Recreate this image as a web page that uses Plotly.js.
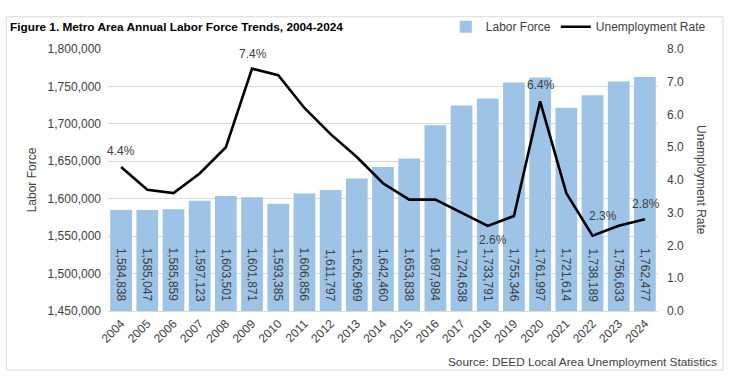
<!DOCTYPE html>
<html>
<head>
<meta charset="utf-8">
<script src="https://cdn.plot.ly/plotly-3.0.1.min.js"></script>
<style>html,body{margin:0;padding:0;background:#fff;}#chart{width:732px;height:378px;}</style>
</head>
<body>
<div id="chart"></div>
<script>
const years = ['2004','2005','2006','2007','2008','2009','2010','2011','2012','2013','2014','2015','2016','2017','2018','2019','2020','2021','2022','2023','2024'];
const laborForce = [1584838,1585047,1585859,1597123,1603501,1601871,1593385,1606856,1611797,1626969,1642460,1653838,1697984,1724638,1733791,1755346,1761997,1721614,1738189,1756633,1762477];
const unemploymentRate = [4.4,3.7,3.6,4.2,5.0,7.4,7.2,6.2,5.4,4.7,3.9,3.4,3.4,3.0,2.6,2.9,6.4,3.6,2.3,2.6,2.8];
const labeledYears = ['2004','2009','2018','2020','2022','2024'];
const yMin = 1450000, yMax = 1800000;

const FONT = 'Liberation Sans, Arial, sans-serif';
const TXT = '#404040';

const barTrace = {
  type: 'bar', name: 'Labor Force', x: years, y: laborForce,
  marker: {color: '#9DC3E6'}, hoverinfo: 'x+y'
};
const lineTrace = {
  type: 'scatter', mode: 'lines', name: 'Unemployment Rate',
  x: years, y: unemploymentRate, yaxis: 'y2',
  line: {color: '#000000', width: 2.6}
};

// bar value labels, rotated, anchored at the axis floor
const annotations = laborForce.map((v, i) => ({
  x: i, y: yMin, xref: 'x', yref: 'y', text: v.toLocaleString('en-US'),
  textangle: 90, showarrow: false, xanchor: 'center', yanchor: 'bottom', yshift: 7,
  font: {family: FONT, size: 12, color: TXT}
}));

const offsets = {'2004':[0,16],'2009':[1,15],'2018':[5,-14],'2020':[1,16],'2022':[10,20],'2024':[1,15]};
labeledYears.forEach(yr => {
  const i = years.indexOf(yr);
  const o = offsets[yr];
  annotations.push({x: i, y: unemploymentRate[i], xref: 'x', yref: 'y2',
    text: unemploymentRate[i].toFixed(1) + '%', showarrow: false,
    xshift: o[0], yshift: o[1], font: {family: FONT, size: 12, color: TXT}});
});
const i22 = years.indexOf('2022');
annotations.push({x: i22, y: unemploymentRate[i22], xref: 'x', yref: 'y2',
  ax: 6, ay: -9, showarrow: true, arrowhead: 0, arrowwidth: 1,
  arrowcolor: '#bfbfbf', text: '', standoff: 1});
annotations.push({xref: 'paper', yref: 'paper', x: -0.182, y: 1.085, xanchor: 'left', yanchor: 'middle',
  text: '<b>Figure 1. Metro Area Annual Labor Force Trends, 2004-2024</b>', showarrow: false,
  font: {family: FONT, size: 11.8, color: '#000'}});
annotations.push({xref: 'paper', yref: 'paper', x: 1.11, y: -0.195, xanchor: 'right', yanchor: 'middle',
  text: 'Source: DEED Local Area Unemployment Statistics', showarrow: false,
  font: {family: FONT, size: 11.8, color: TXT}});
annotations.push({xref: 'paper', yref: 'paper', x: 1.078, y: 0.5, xanchor: 'center', yanchor: 'middle',
  text: 'Unemployment Rate', textangle: 90, showarrow: false,
  font: {family: FONT, size: 12, color: TXT}});

const layout = {
  width: 732, height: 378,
  margin: {l: 108, r: 74, t: 40, b: 67},
  paper_bgcolor: '#fff', plot_bgcolor: '#fff',
  font: {family: FONT, size: 12, color: TXT},
  bargap: 0.17,
  showlegend: true,
  legend: {orientation: 'h', x: 1.096, xanchor: 'right', y: 1.085, yanchor: 'middle',
    font: {family: FONT, size: 12, color: TXT}, bgcolor: 'rgba(0,0,0,0)', traceorder: 'normal'},
  xaxis: {type: 'category', range: [-0.5, years.length - 0.5], autorange: false, tickangle: -45,
    showgrid: false, showline: true, linecolor: '#d9d9d9',
    ticks: '', tickfont: {family: FONT, size: 12, color: TXT}},
  yaxis: {range: [yMin, yMax], autorange: false, dtick: 50000, tickformat: ',d', showgrid: true, gridcolor: '#d9d9d9',
    zeroline: false, ticks: '', ticklabelstandoff: 6,
    title: {text: 'Labor Force', font: {family: FONT, size: 12, color: TXT}, standoff: 8},
    tickfont: {family: FONT, size: 12, color: TXT}},
  yaxis2: {range: [0, 8], autorange: false, dtick: 1, tickformat: '.1f', overlaying: 'y', side: 'right', showgrid: false,
    zeroline: false, ticks: '', ticklabelstandoff: 8, tickfont: {family: FONT, size: 12, color: TXT}},
  annotations: annotations,
  shapes: [{type: 'rect', xref: 'paper', yref: 'paper', x0: -0.185, x1: 1.118, y0: -0.225, y1: 1.123,
    line: {color: '#d9d9d9', width: 1}, fillcolor: 'rgba(0,0,0,0)', layer: 'below'}]
};

Plotly.newPlot('chart', [barTrace, lineTrace], layout, {staticPlot: true, displayModeBar: false});
</script>
</body>
</html>
